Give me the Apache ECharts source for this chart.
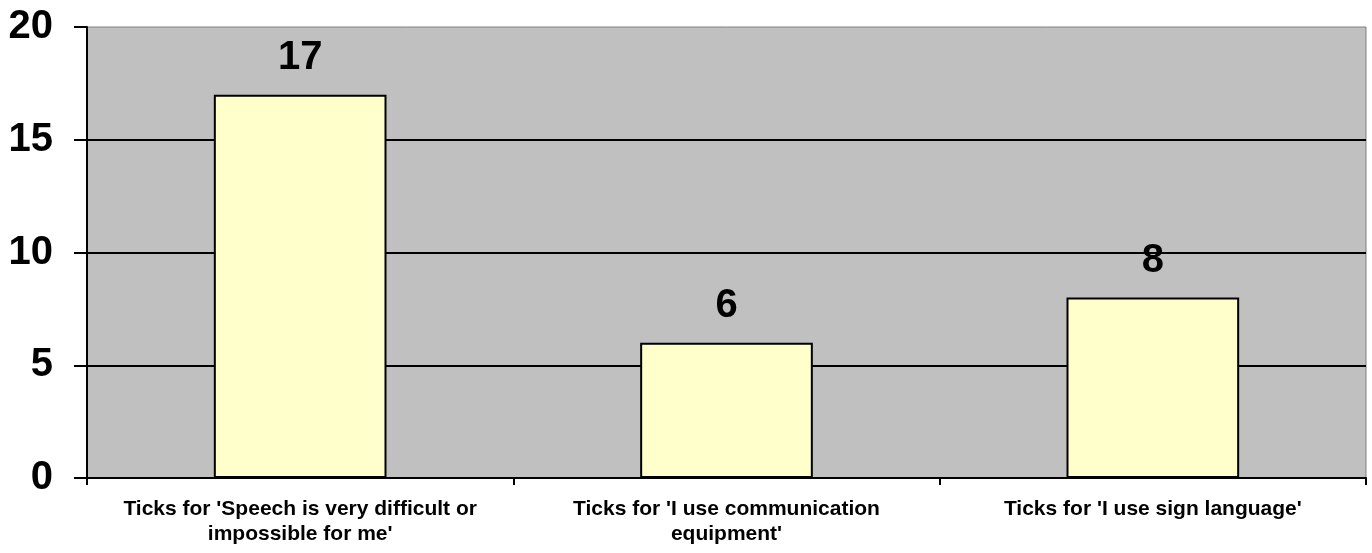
<!DOCTYPE html>
<html>
<head>
<meta charset="utf-8">
<script src="https://cdn.jsdelivr.net/npm/echarts@6/dist/echarts.min.js"></script>
<style>
  html, body { margin: 0; padding: 0; background: #fff; }
  #chart { width: 1372px; height: 553px; }
</style>
</head>
<body>
<div id="chart"></div>
<script>
var categories = [
  "Ticks for 'Speech is very difficult or\nimpossible for me'",
  "Ticks for 'I use communication\nequipment'",
  "Ticks for 'I use sign language'"
];
var values = [17, 6, 8];
var yTicks = [0, 5, 10, 15, 20];

var font = 'Arial, "Liberation Sans", sans-serif';

var option = {
  animation: false,
  grid: {
    left: 87, right: 6, top: 27, bottom: 75,
    show: true,
    backgroundColor: '#c0c0c0',
    borderColor: '#808080',
    borderWidth: 1
  },
  xAxis: {
    type: 'category',
    data: categories,
    axisLine: { lineStyle: { color: '#000', width: 2 } },
    axisTick: { show: true, length: 7, lineStyle: { color: '#000', width: 2 } },
    axisLabel: {
      color: '#000', fontFamily: font, fontWeight: 'bold', fontSize: 21,
      lineHeight: 25, margin: 19, interval: 0
    }
  },
  yAxis: {
    type: 'value',
    min: yTicks[0],
    max: yTicks[yTicks.length - 1],
    interval: 5,
    axisLine: { show: true, lineStyle: { color: '#000', width: 2 } },
    axisTick: { show: true, length: 13, lineStyle: { color: '#000', width: 2 } },
    splitLine: { show: true, showMaxLine: false, lineStyle: { color: '#000', width: 2 } },
    axisLabel: {
      color: '#000', fontFamily: font, fontWeight: 'bold', fontSize: 40,
      margin: 34
    }
  },
  series: [{
    type: 'bar',
    data: values,
    barWidth: '40.5%',
    itemStyle: { color: '#ffffcc', borderColor: '#000', borderWidth: 2 },
    label: {
      show: true, position: 'top', distance: 17,
      color: '#000', fontFamily: font, fontWeight: 'bold', fontSize: 40
    }
  }]
};

var myChart = echarts.init(document.getElementById('chart'));
myChart.setOption(option);
</script>
</body>
</html>
